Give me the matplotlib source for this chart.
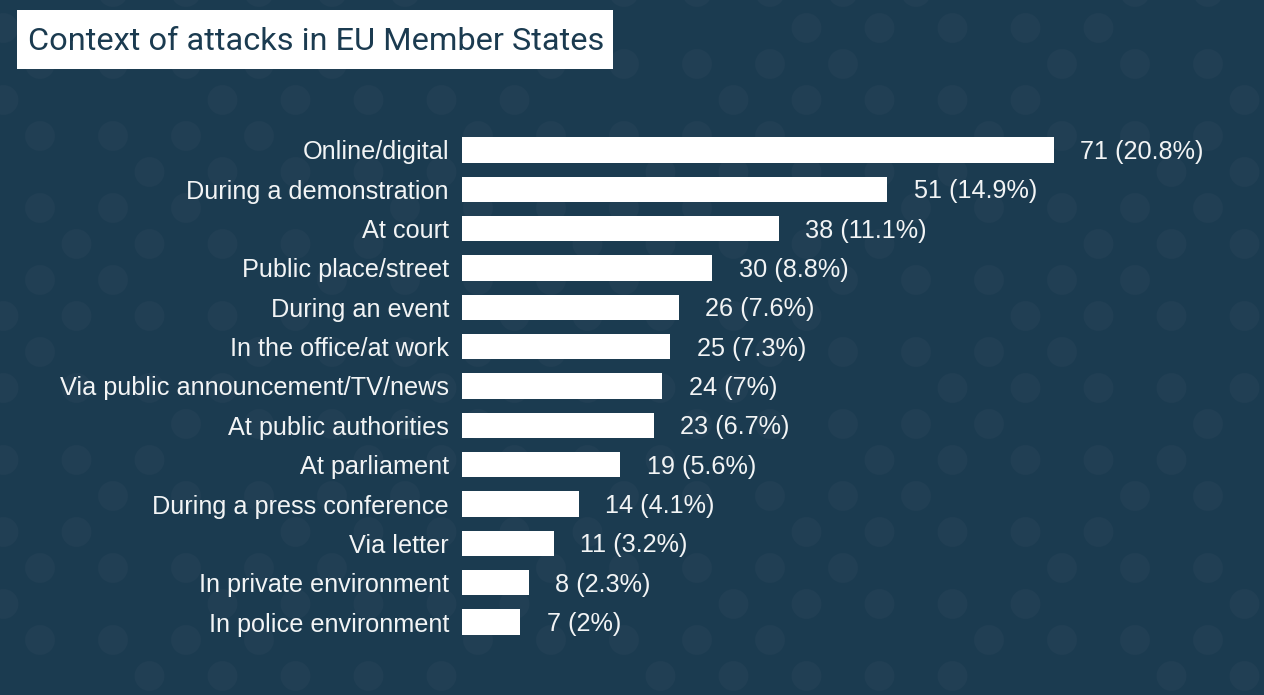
import matplotlib
matplotlib.use("Agg")
import matplotlib.pyplot as plt
from matplotlib.patches import Circle, Rectangle

categories = [
    "Online/digital",
    "During a demonstration",
    "At court",
    "Public place/street",
    "During an event",
    "In the office/at work",
    "Via public announcement/TV/news",
    "At public authorities",
    "At parliament",
    "During a press conference",
    "Via letter",
    "In private environment",
    "In police environment",
]
counts = [71, 51, 38, 30, 26, 25, 24, 23, 19, 14, 11, 8, 7]
percents = ["20.8%", "14.9%", "11.1%", "8.8%", "7.6%", "7.3%", "7%",
            "6.7%", "5.6%", "4.1%", "3.2%", "2.3%", "2%"]
title = "Context of attacks in EU Member States"

BG = "#1b3b50"
DOT = "#213f54"
TXT = "#f2f4f5"

plt.rcParams["font.family"] = ["Liberation Sans", "DejaVu Sans"]

W, H = 1264, 695
fig = plt.figure(figsize=(W / 100, H / 100), dpi=100, facecolor=BG)

# background with dot pattern and title box
bg = fig.add_axes([0, 0, 1, 1], zorder=0)
bg.set_xlim(0, W)
bg.set_ylim(H, 0)
bg.axis("off")
bg.set_facecolor(BG)
row = 0
y = -8
while y < H + 40:
    x0 = 40 if row % 2 == 0 else 3.5
    x = x0
    col = 0
    while x < W + 40:
        if (row * 5 + col * 3) % 7 not in (0, 4):
            bg.add_patch(Circle((x, y), 15, facecolor=DOT, edgecolor="none"))
        x += 73
        col += 1
    y += 36
    row += 1

bg.add_patch(Rectangle((17, 10), 596, 59, facecolor="white", edgecolor="none", zorder=3))
bg.text(28, 41, title, fontsize=23.4, family="Roboto", color="#1b3b50",
        va="center", ha="left", zorder=4)

# bar chart
ax = fig.add_axes([462 / W, 1 - 641.7 / H, 592 / W, 511.4 / H], zorder=1)
ax.patch.set_alpha(0)
n = len(categories)
pos = list(range(n))
ax.barh(pos, counts, height=0.64, color="white", edgecolor="none")
ax.set_xlim(0, max(counts))
ax.set_ylim(n - 0.5, -0.5)
for s in ax.spines.values():
    s.set_visible(False)
ax.set_xticks([])
ax.set_yticks(pos)
ax.set_yticklabels(categories, fontsize=18.2, color=TXT)
ax.tick_params(axis="y", length=0, pad=9.4)
for p, c, pc in zip(pos, counts, percents):
    ax.annotate(f"{c} ({pc})", xy=(c, p), xytext=(19, -1.5), textcoords="offset points",
                va="center", ha="left", fontsize=18.2, color=TXT,
                annotation_clip=False)

fig.savefig("out.png", dpi=100, facecolor=BG)
